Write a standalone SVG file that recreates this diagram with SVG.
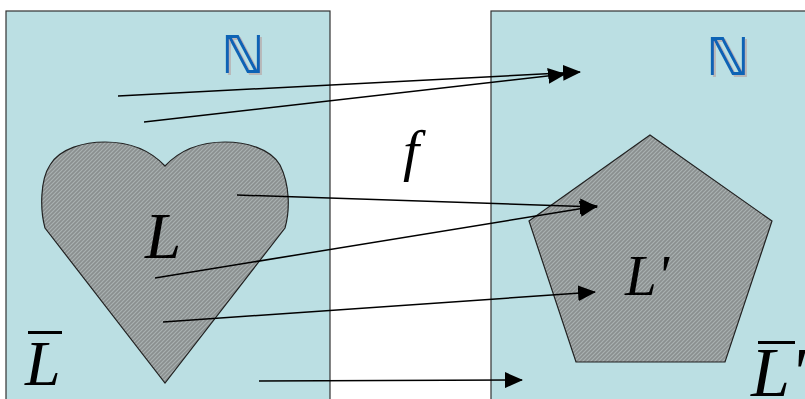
<svg xmlns="http://www.w3.org/2000/svg" width="805" height="399" viewBox="0 0 805 399">
<style>
.box{fill:#BBDFE3;stroke:#333;stroke-width:1.2}
.shape{fill:url(#hatch);stroke:#222;stroke-width:1.2}
.arr{fill:none;stroke:#000;stroke-width:1.5;marker-end:url(#ah)}
.nat{font-family:"DejaVu Sans",sans-serif;font-size:52px;font-weight:bold;fill:#0B63B5;filter:url(#sh)}
.it{font-family:"Liberation Serif",serif;font-style:italic;fill:#000}
</style>
<defs>
<filter id="sh" x="-20%" y="-20%" width="150%" height="150%">
<feDropShadow dx="2" dy="2" stdDeviation="0.3" flood-color="#B8B8B8" flood-opacity="1"/>
</filter>
<pattern id="hatch" width="4" height="4" patternUnits="userSpaceOnUse">
<rect width="4" height="4" fill="#8A8F8F"/>
<path d="M-1,1 L1,-1 M0,4 L4,0 M3,5 L5,3" stroke="#A9B1B1" stroke-width="1.2"/>
</pattern>
<marker id="ah" viewBox="0 0 18 16" refX="17" refY="8" markerWidth="18" markerHeight="16" markerUnits="userSpaceOnUse" orient="auto">
<path d="M0,0 L18,8 L0,16 Z" fill="#000"/>
</marker>
</defs>
<g id="left-box">
<rect class="box" x="6" y="11" width="324" height="400"/>
<text class="nat" x="221" y="73">ℕ</text>
<text class="it" x="25" y="385" font-size="64">L</text>
<rect x="28" y="331" width="34" height="3" fill="#000"/>
</g>
<g id="right-box">
<rect class="box" x="491" y="11" width="320" height="400"/>
<text class="nat" x="706" y="75">ℕ</text>
<text class="it" x="751" y="396" font-size="70">L'</text>
<rect x="758" y="341" width="37" height="3" fill="#000"/>
</g>
<g id="heart">
<path class="shape" d="M165,166 C150,150 130,142 105,142 C85,142 60,148 50,165 C40,180 40,210 45,228 L165,383 L285,228 C290,210 290,185 280,165 C270,148 245,142 225,142 C200,142 180,150 165,166 Z"/>
<text class="it" x="145" y="258" font-size="65">L</text>
</g>
<g id="pentagon">
<polygon class="shape" points="650,135 772,221 725,362 576,362 529,221"/>
<text class="it" x="625" y="295" font-size="57">L'</text>
</g>
<g id="f-label">
<text class="it" x="403" y="170" font-size="58">f</text>
</g>
<g id="connectors">
<line class="arr" x1="118" y1="96" x2="580" y2="72"/>
<line class="arr" x1="144" y1="122" x2="565" y2="74"/>
<line class="arr" x1="237" y1="195" x2="597" y2="207"/>
<line class="arr" x1="155" y1="278" x2="597" y2="206"/>
<line class="arr" x1="163" y1="322" x2="595" y2="292"/>
<line class="arr" x1="259" y1="381" x2="522" y2="380"/>
</g>
</svg>
